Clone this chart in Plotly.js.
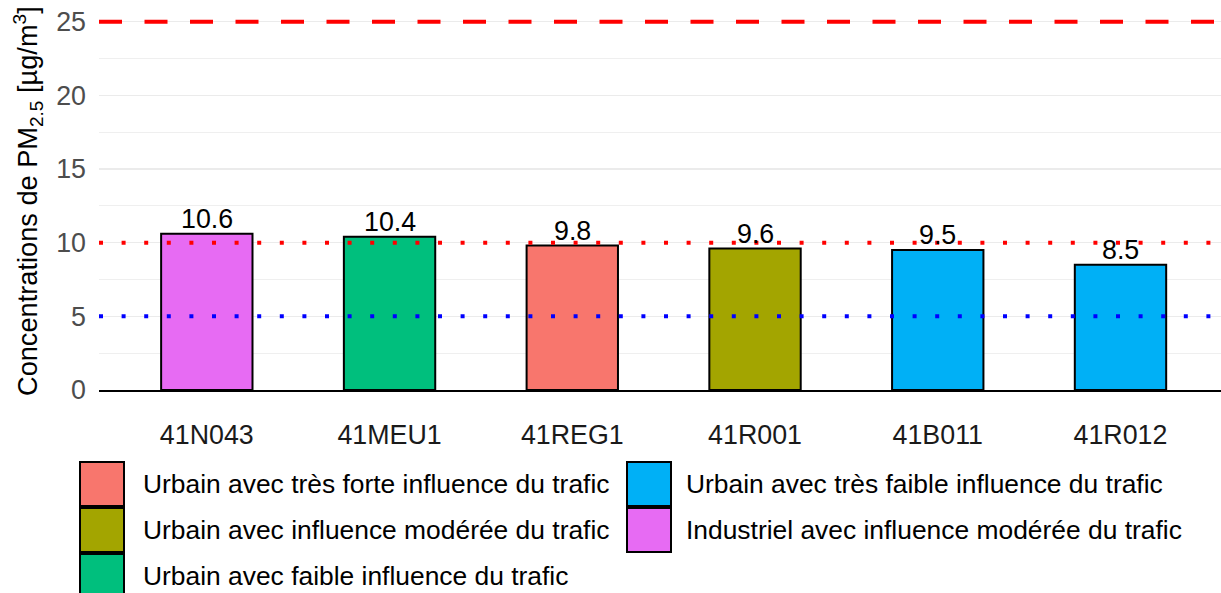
<!DOCTYPE html>
<html>
<head>
<meta charset="utf-8">
<script src="https://cdn.plot.ly/plotly-3.0.1.min.js"></script>
<style>
  html, body { margin: 0; padding: 0; background: #fff; }
  #chart { width: 1221px; height: 593px; }
</style>
</head>
<body>
<div id="chart"></div>
<script>
// Station data (PM2.5 annual mean, µg/m³)
const stations = ["41N043", "41MEU1", "41REG1", "41R001", "41B011", "41R012"];
const concentrations = [10.6, 10.4, 9.8, 9.6, 9.5, 8.5];
const stationTypes = [
  "Industriel avec influence modérée du trafic",
  "Urbain avec faible influence du trafic",
  "Urbain avec très forte influence du trafic",
  "Urbain avec influence modérée du trafic",
  "Urbain avec très faible influence du trafic",
  "Urbain avec très faible influence du trafic"
];

// Legend order (column by column, as in the original)
const typeNames = [
  "Urbain avec très forte influence du trafic",
  "Urbain avec influence modérée du trafic",
  "Urbain avec faible influence du trafic",
  "Urbain avec très faible influence du trafic",
  "Industriel avec influence modérée du trafic"
];
const typeColors = ["#F8766D", "#A3A500", "#00BF7D", "#00B0F6", "#E76BF3"];

// Reference values (WHO / EU)
const thresholds = [25, 10, 5];
const thresholdColors = ["#FF0000", "#FF0000", "#0000FF"];
const thresholdDash = ["23px,22.5px", "4px,18.6px", "4px,18.6px"];

// plot area in pixels, used to place the hand-made legend
const W = 1221, H = 593;
const M = { l: 99, r: 0, t: 4, b: 203 };
const plotW = W - M.l - M.r;
const plotH = H - M.t - M.b;
const px = (x) => (x - M.l) / plotW;
const py = (y) => (H - M.b - y) / plotH;

const FONT = "Liberation Sans, Arial, sans-serif";
const colorOf = (t) => typeColors[typeNames.indexOf(t)];

const traces = [{
  type: "bar",
  x: stations,
  y: concentrations,
  width: 0.5,
  marker: {
    color: stationTypes.map(colorOf),
    line: { color: "#000000", width: 2 }
  },
  hoverinfo: "x+y",
  showlegend: false
}];

// value labels sit right on top of the bars
const annotations = stations.map((s, i) => ({
  xref: "x", yref: "y",
  x: s, y: concentrations[i],
  xanchor: "center", yanchor: "bottom",
  yshift: -2,
  showarrow: false,
  text: concentrations[i].toFixed(1),
  font: { family: FONT, size: 26.8, color: "#000000" }
}));

const shapes = thresholds.map((v, i) => ({
  type: "line",
  xref: "paper", x0: 0, x1: 1,
  yref: "y", y0: v, y1: v,
  line: { color: thresholdColors[i], width: 4, dash: thresholdDash[i] },
  layer: "above"
}));

annotations.push({
  xref: "paper", yref: "paper",
  x: px(28), y: py(201),
  xanchor: "center", yanchor: "middle",
  textangle: -90,
  showarrow: false,
  text: "Concentrations de PM<sub>2.5</sub> [µg/m<sup>3</sup>]",
  font: { family: FONT, size: 27.2, color: "#000000" }
});

// legend: two columns, keys 44px high
typeNames.forEach((name, i) => {
  const col = i < 3 ? 0 : 1;
  const row = col === 0 ? i : i - 3;
  const boxX = col === 0 ? 80 : 627;
  const textX = col === 0 ? 141 : 684;
  const top = 462 + row * 46;
  shapes.push({
    type: "rect",
    xref: "paper", yref: "paper",
    x0: px(boxX), x1: px(boxX + 44),
    y0: py(top), y1: py(top + 44),
    fillcolor: typeColors[i],
    line: { color: "#000000", width: 2 }
  });
  annotations.push({
    xref: "paper", yref: "paper",
    x: px(textX), y: py(top + 22),
    xanchor: "left", yanchor: "middle",
    showarrow: false,
    text: name,
    font: { family: FONT, size: 26.4, color: "#000000" }
  });
});

const layout = {
  width: W,
  height: H,
  margin: M,
  paper_bgcolor: "#ffffff",
  plot_bgcolor: "#ffffff",
  font: { family: FONT, size: 26, color: "#000000" },
  showlegend: false,
  xaxis: {
    type: "category",
    range: [-0.59, 5.55],
    showgrid: false,
    showline: true,
    linecolor: "#000000",
    linewidth: 2,
    ticks: "",
    ticklabelstandoff: 20,
    tickfont: { size: 26.8, color: "#1A1A1A" },
    zeroline: false,
    fixedrange: true
  },
  yaxis: {
    range: [0, 26.2],
    tickvals: [0, 5, 10, 15, 20, 25],
    ticks: "",
    ticklabelstandoff: 12,
    tickfont: { size: 26.8, color: "#4D4D4D" },
    showgrid: true,
    gridcolor: "#EBEBEB",
    gridwidth: 1.6,
    minor: { dtick: 2.5, tick0: 0, showgrid: true, gridcolor: "#EBEBEB", gridwidth: 0.8 },
    zeroline: false,
    showline: false,
    fixedrange: true
  },
  shapes: shapes,
  annotations: annotations
};

Plotly.newPlot("chart", traces, layout, { displayModeBar: false, staticPlot: true });
</script>
</body>
</html>
